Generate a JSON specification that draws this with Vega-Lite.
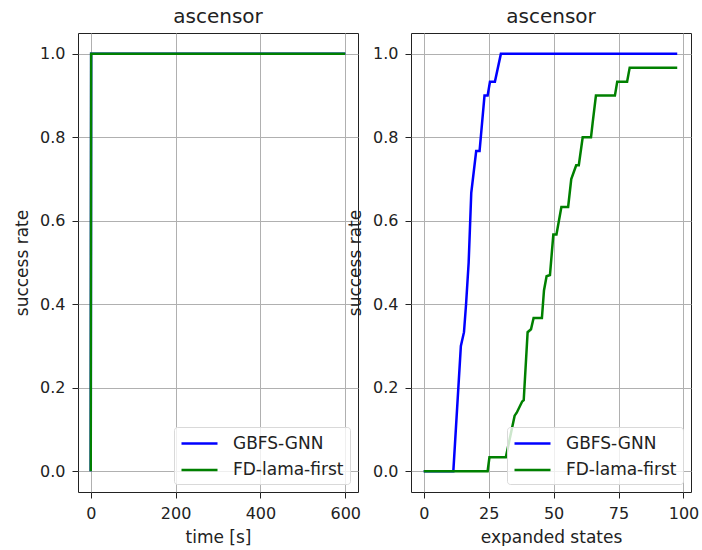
{
  "$schema": "https://vega.github.io/schema/vega-lite/v6.json",
  "padding": {"left": 13, "top": 6, "right": 0, "bottom": 0},
  "background": "white",
  "bounds": "flush",
  "spacing": 53,
  "config": {
    "font": "DejaVu Sans",
    "view": {"stroke": "#222222", "strokeWidth": 1},
    "axis": {
      "domain": false,
      "labelFontSize": 16,
      "labelColor": "#222222",
      "titleFontSize": 17,
      "titleFontWeight": "normal",
      "titleColor": "#222222",
      "tickColor": "#222222",
      "tickSize": 6,
      "gridColor": "#b0b0b0",
      "gridWidth": 1,
      "labelPadding": 7,
      "titlePadding": 8
    },
    "title": {"fontSize": 20, "fontWeight": "normal", "color": "#222222", "offset": 6},
    "legend": {
      "orient": "bottom-right",
      "offset": 8,
      "title": null,
      "labelFontSize": 17,
      "labelColor": "#222222",
      "symbolType": "M-2,0H2",
      "symbolSize": 324,
      "symbolOffset": 9,
      "symbolStrokeWidth": 2.5,
      "labelOffset": 23,
      "padding": 6,
      "rowPadding": 7.5,
      "fillColor": "rgba(255,255,255,0.8)",
      "strokeColor": "#d9d9d9",
      "cornerRadius": 3
    }
  },
  "datasets": {
    "time": [
      {"method": "GBFS-GNN", "x": 0, "y": 0},
      {"method": "GBFS-GNN", "x": 1, "y": 1},
      {"method": "GBFS-GNN", "x": 600, "y": 1},
      {"method": "FD-lama-first", "x": 0, "y": 0},
      {"method": "FD-lama-first", "x": 1, "y": 1},
      {"method": "FD-lama-first", "x": 600, "y": 1}
    ],
    "expanded": [
      {"method": "GBFS-GNN", "x": 0, "y": 0},
      {"method": "GBFS-GNN", "x": 11.4, "y": 0},
      {"method": "GBFS-GNN", "x": 14.3, "y": 0.3},
      {"method": "GBFS-GNN", "x": 15.5, "y": 0.333},
      {"method": "GBFS-GNN", "x": 16.3, "y": 0.4},
      {"method": "GBFS-GNN", "x": 17.3, "y": 0.5},
      {"method": "GBFS-GNN", "x": 18.3, "y": 0.667},
      {"method": "GBFS-GNN", "x": 20.2, "y": 0.767},
      {"method": "GBFS-GNN", "x": 21.5, "y": 0.767},
      {"method": "GBFS-GNN", "x": 23.4, "y": 0.9},
      {"method": "GBFS-GNN", "x": 24.6, "y": 0.9},
      {"method": "GBFS-GNN", "x": 25.5, "y": 0.933},
      {"method": "GBFS-GNN", "x": 27.4, "y": 0.933},
      {"method": "GBFS-GNN", "x": 29.7, "y": 1.0},
      {"method": "GBFS-GNN", "x": 97.6, "y": 1.0},
      {"method": "FD-lama-first", "x": 0, "y": 0},
      {"method": "FD-lama-first", "x": 24.6, "y": 0},
      {"method": "FD-lama-first", "x": 25.3, "y": 0.033},
      {"method": "FD-lama-first", "x": 31.6, "y": 0.033},
      {"method": "FD-lama-first", "x": 35.0, "y": 0.133},
      {"method": "FD-lama-first", "x": 35.8, "y": 0.14},
      {"method": "FD-lama-first", "x": 37.9, "y": 0.167},
      {"method": "FD-lama-first", "x": 38.5, "y": 0.17},
      {"method": "FD-lama-first", "x": 40.0, "y": 0.333},
      {"method": "FD-lama-first", "x": 41.3, "y": 0.34},
      {"method": "FD-lama-first", "x": 42.3, "y": 0.367},
      {"method": "FD-lama-first", "x": 45.5, "y": 0.367},
      {"method": "FD-lama-first", "x": 46.3, "y": 0.433},
      {"method": "FD-lama-first", "x": 47.3, "y": 0.467},
      {"method": "FD-lama-first", "x": 48.6, "y": 0.47},
      {"method": "FD-lama-first", "x": 49.9, "y": 0.567},
      {"method": "FD-lama-first", "x": 51.1, "y": 0.567},
      {"method": "FD-lama-first", "x": 53.0, "y": 0.633},
      {"method": "FD-lama-first", "x": 55.6, "y": 0.633},
      {"method": "FD-lama-first", "x": 56.8, "y": 0.7},
      {"method": "FD-lama-first", "x": 58.7, "y": 0.733},
      {"method": "FD-lama-first", "x": 59.7, "y": 0.733},
      {"method": "FD-lama-first", "x": 61.2, "y": 0.8},
      {"method": "FD-lama-first", "x": 64.4, "y": 0.8},
      {"method": "FD-lama-first", "x": 65.0, "y": 0.833},
      {"method": "FD-lama-first", "x": 66.3, "y": 0.9},
      {"method": "FD-lama-first", "x": 73.6, "y": 0.9},
      {"method": "FD-lama-first", "x": 74.5, "y": 0.933},
      {"method": "FD-lama-first", "x": 78.3, "y": 0.933},
      {"method": "FD-lama-first", "x": 79.3, "y": 0.967},
      {"method": "FD-lama-first", "x": 97.6, "y": 0.967}
    ]
  },
  "resolve": {"legend": {"color": "independent"}, "scale": {"x": "independent"}},
  "hconcat": [
    {
      "title": "ascensor",
      "width": 280,
      "height": 459,
      "data": {"name": "time"},
      "mark": {"type": "line", "strokeWidth": 2.5},
      "encoding": {
        "x": {
          "field": "x", "type": "quantitative", "title": "time [s]",
          "scale": {"domain": [-30, 630], "nice": false, "zero": false},
          "axis": {"values": [0, 200, 400, 600]}
        },
        "y": {
          "field": "y", "type": "quantitative", "title": "success rate",
          "scale": {"domain": [-0.05, 1.05], "nice": false, "zero": false},
          "axis": {"values": [0, 0.2, 0.4, 0.6, 0.8, 1.0], "format": ".1f"}
        },
        "color": {
          "field": "method", "type": "nominal",
          "scale": {"domain": ["GBFS-GNN", "FD-lama-first"], "range": ["#0000ff", "#008000"]}
        }
      }
    },
    {
      "title": "ascensor",
      "width": 280,
      "height": 459,
      "data": {"name": "expanded"},
      "mark": {"type": "line", "strokeWidth": 2.5},
      "encoding": {
        "x": {
          "field": "x", "type": "quantitative", "title": "expanded states",
          "scale": {"domain": [-4.9, 102.9], "nice": false, "zero": false},
          "axis": {"values": [0, 25, 50, 75, 100]}
        },
        "y": {
          "field": "y", "type": "quantitative", "title": "success rate",
          "scale": {"domain": [-0.05, 1.05], "nice": false, "zero": false},
          "axis": {"values": [0, 0.2, 0.4, 0.6, 0.8, 1.0], "format": ".1f"}
        },
        "color": {
          "field": "method", "type": "nominal",
          "scale": {"domain": ["GBFS-GNN", "FD-lama-first"], "range": ["#0000ff", "#008000"]}
        }
      }
    }
  ]
}
